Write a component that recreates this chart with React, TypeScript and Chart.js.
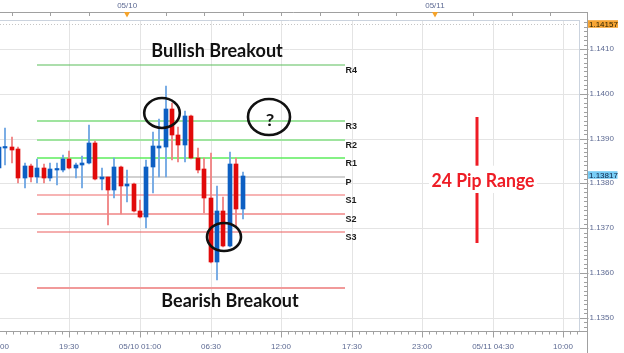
import React, { useEffect, useRef } from 'react';
import { Chart, registerables } from 'chart.js';

Chart.register(...registerables);

// ---------------- data ----------------
// candle open times, hours relative to 05/10 00:00 (30-minute candles)
const candleHours = [-10, -9.5, -9, -8.5, -8, -7.5, -7, -6.5, -6, -5.5, -5, -4.5, -4, -3.5, -3, -2.5, -2, -1.5, -1, -0.5, 0, 0.5, 1, 1.5, 2, 2.5, 3, 3.5, 4, 4.5, 5, 5.5, 6, 6.5, 7, 7.5, 8, 8.5, 9];
const opens = [1.13834, 1.13878, 1.13882, 1.13877, 1.13811, 1.13839, 1.13815, 1.13835, 1.13813, 1.1383, 1.1383, 1.13854, 1.13834, 1.13841, 1.13845, 1.13891, 1.1381, 1.13814, 1.13785, 1.13837, 1.13793, 1.13798, 1.13739, 1.13724, 1.13836, 1.1388, 1.13882, 1.13965, 1.13908, 1.13886, 1.1395, 1.13856, 1.13831, 1.13768, 1.13625, 1.13739, 1.1366, 1.13843, 1.13743];
const highs = [1.1389, 1.13923, 1.13904, 1.13881, 1.13845, 1.13843, 1.13854, 1.13843, 1.13845, 1.13845, 1.13863, 1.13872, 1.13846, 1.1386, 1.1393, 1.13894, 1.13834, 1.13815, 1.13856, 1.13838, 1.1383, 1.138, 1.13763, 1.13852, 1.13915, 1.13943, 1.14017, 1.13979, 1.13926, 1.13962, 1.13953, 1.13878, 1.13856, 1.13867, 1.13793, 1.1377, 1.13871, 1.13856, 1.13826];
const lows = [1.13825, 1.13841, 1.13845, 1.13801, 1.13789, 1.13804, 1.138, 1.138, 1.13805, 1.13796, 1.13826, 1.13832, 1.13811, 1.13789, 1.13843, 1.13807, 1.13785, 1.13707, 1.13768, 1.13731, 1.13758, 1.13736, 1.13722, 1.137, 1.13778, 1.13815, 1.13815, 1.13852, 1.13848, 1.13848, 1.13855, 1.13822, 1.13733, 1.13623, 1.13584, 1.13658, 1.13658, 1.13705, 1.1372];
const closes = [1.13881, 1.13882, 1.13874, 1.13811, 1.13839, 1.13815, 1.13835, 1.13813, 1.13831, 1.13832, 1.13854, 1.13835, 1.13841, 1.13846, 1.13891, 1.13809, 1.13814, 1.13785, 1.13837, 1.13793, 1.13798, 1.13738, 1.13724, 1.13836, 1.13883, 1.13883, 1.13965, 1.13908, 1.13886, 1.1395, 1.13856, 1.1383, 1.13767, 1.13625, 1.13739, 1.1366, 1.13843, 1.13743, 1.13817];

const pivotNames = ['R4', 'R3', 'R2', 'R1', 'P', 'S1', 'S2', 'S3'];
const pivotLevels = [1.14064, 1.13939, 1.13897, 1.13856, 1.13815, 1.13773, 1.13732, 1.13691];
const bearishLevel = 1.13567;
const pivotStartHour = -7;
const pivotEndHour = 17;

const bottomTickHours = [-10, -4.5, 1, 6.5, 12, 17.5, 23, 28.5, 34];
const bottomTickLabels = ['14:00', '19:30', '05/10 01:00', '06:30', '12:00', '17:30', '23:00', '05/11 04:30', '10:00'];
const topTickHours = [0, 24];
const topTickLabels = ['05/10', '05/11'];
const priceTicks = [1.135, 1.136, 1.137, 1.138, 1.139, 1.14, 1.141];

const sessionHigh = 1.14157;
const lastPrice = 1.13817;
const rangeHour = 27.26;
const rangeTop = 1.13948;
const rangeBottom = 1.13666;

// ---------------- view settings ----------------
const X_MIN = -9.92;
const X_MAX = 35.24;
const Y_MIN = 1.1347;
const Y_MAX = 1.14165;

const UP_BODY = '#0d5fc3';
const DOWN_BODY = '#e10a0a';
const UP_WICK = '#72a8e4';
const DOWN_WICK = '#f08585';
const TICK_COLOR = '#5d6a93';
const GRID_COLOR = '#e4e4e4';

const pivotStyles = [
  { color: '#5bbd5b', width: 1.2 },
  { color: '#9fe49f', width: 2 },
  { color: '#9fe49f', width: 2 },
  { color: '#5ded5d', width: 1.3 },
  { color: '#a3a3a3', width: 1.1 },
  { color: '#f06b6b', width: 1.1 },
  { color: '#f3a3a3', width: 2 },
  { color: '#ec5f5f', width: 1.1 },
];
const bearishStyle = { color: '#f19a9a', width: 2 };

function stretchText(ctx: CanvasRenderingContext2D, text: string, cx: number, baseline: number, width: number, capH: number, color: string) {
  const size = capH / 0.72;
  ctx.save();
  ctx.font = `bold ${size}px Lato`;
  const w = ctx.measureText(text).width;
  ctx.translate(cx, baseline);
  ctx.scale(width / w, 1);
  ctx.fillStyle = color;
  ctx.textAlign = 'center';
  ctx.textBaseline = 'alphabetic';
  ctx.fillText(text, 0, 0);
  ctx.restore();
}

const overlayPlugin = {
  id: 'overlay',
  beforeDatasetsDraw(chart: any) {
    const { ctx, chartArea: a } = chart;
    const ys = chart.scales.y;
    ctx.save();
    const yh = Math.round(ys.getPixelForValue(sessionHigh)) + 0.5;
    ctx.strokeStyle = '#c6c6c6';
    ctx.lineWidth = 1;
    ctx.setLineDash([1, 2]);
    ctx.beginPath();
    ctx.moveTo(a.left, yh);
    ctx.lineTo(a.right, yh);
    ctx.stroke();
    ctx.restore();
  },
  afterDatasetsDraw(chart: any) {
    const { ctx } = chart;
    const xs = chart.scales.x;
    const ys = chart.scales.y;
    const X = (h: number) => xs.getPixelForValue(h);
    const Y = (p: number) => ys.getPixelForValue(p);
    ctx.save();

    // pivot labels
    ctx.font = 'bold 9px "Liberation Sans"';
    ctx.fillStyle = '#1a1a1a';
    ctx.textAlign = 'left';
    ctx.textBaseline = 'middle';
    pivotNames.forEach((n, i) => {
      ctx.fillText(n, X(pivotEndHour) + 0.5, Y(pivotLevels[i]) + 5.3);
    });

    // range bar
    const rx = X(rangeHour);
    ctx.strokeStyle = '#ee1c25';
    ctx.lineWidth = 3;
    ctx.beginPath();
    ctx.moveTo(rx, Y(rangeTop));
    ctx.lineTo(rx, Y(rangeBottom));
    ctx.stroke();

    // "24 Pip Range" with white box
    const pcx = X(27.78);
    const pbase = Y(1.13791);
    ctx.fillStyle = '#ffffff';
    ctx.fillRect(pcx - 54, pbase - 21.3, 108, 27.3);
    stretchText(ctx, '24 Pip Range', pcx, pbase, 103, 13.2, '#ee1c25');

    // breakout titles
    stretchText(ctx, 'Bullish Breakout', X(7.04), Y(1.14082), 131.6, 13, '#111111');
    stretchText(ctx, 'Bearish Breakout', X(8.04), Y(1.13523), 137.3, 13, '#111111');

    // ellipses
    ctx.strokeStyle = '#111111';
    ctx.lineWidth = 2.6;
    const ells = [
      [2.71, 1.13958, 17.8, 15],
      [11.1, 1.13948, 21, 18],
      [7.53, 1.13679, 17, 14],
    ];
    ells.forEach(([h, p, erx, ery]) => {
      ctx.beginPath();
      ctx.ellipse(X(h), Y(p), erx, ery, 0, 0, Math.PI * 2);
      ctx.stroke();
    });
    stretchText(ctx, '?', X(11.12), Y(1.13928), 8.5, 12.5, '#111111');

    ctx.restore();
  },
  afterDraw(chart: any) {
    const { ctx, chartArea: a } = chart;
    const xs = chart.scales.x;
    const ys = chart.scales.y;
    const X = (h: number) => xs.getPixelForValue(h);
    const Y = (p: number) => ys.getPixelForValue(p);
    const line = (x1: number, y1: number, x2: number, y2: number) => {
      ctx.beginPath();
      ctx.moveTo(x1, y1);
      ctx.lineTo(x2, y2);
      ctx.stroke();
    };
    ctx.save();
    ctx.lineWidth = 1;

    // plot frame
    ctx.strokeStyle = '#cbd3de';
    line(a.left, a.top + 0.5, a.right, a.top + 0.5);
    line(a.right + 0.5, a.top, a.right + 0.5, a.bottom);

    ctx.strokeStyle = '#a0a0a0';
    const axX = a.right + 8.5;
    // top axis
    line(0, 12.5, axX, 12.5);
    for (let h = -9; h <= X_MAX; h += 3) {
      const x = Math.round(X(h)) + 0.5;
      line(x, 12.5, x, 16);
    }
    // right axis
    line(axX, 12, axX, 353);
    for (let i = Math.ceil(Y_MIN * 10000); i <= Math.floor(Y_MAX * 10000); i++) {
      const y = Math.round(Y(i / 10000)) + 0.5;
      if (i % 10 === 0) line(a.right + 1, y, axX + 1, y);
      else line(axX - 3.5, y, axX, y);
    }
    // bottom axis
    line(0, a.bottom + 0.5, axX, a.bottom + 0.5);
    for (let i = 0; i < 100; i++) {
      const h = -10 + 0.55 * i;
      if (h > X_MAX) break;
      const x = Math.round(X(h)) + 0.5;
      line(x, a.bottom + 0.5, x, a.bottom + (i % 10 === 0 ? 6.5 : 3.5));
    }

    // date markers on the top axis
    ctx.fillStyle = '#f5a32a';
    topTickHours.forEach((h) => {
      const x = X(h);
      ctx.beginPath();
      ctx.moveTo(x - 3, 12);
      ctx.lineTo(x + 3, 12);
      ctx.lineTo(x, 17.5);
      ctx.closePath();
      ctx.fill();
    });

    // price boxes
    ctx.font = '8px "Liberation Sans"';
    ctx.textAlign = 'left';
    ctx.textBaseline = 'middle';
    const hy = Y(sessionHigh);
    ctx.fillStyle = '#f7a534';
    ctx.fillRect(axX + 0.5, hy - 3.8, 30, 7.6);
    ctx.fillStyle = '#2b2200';
    ctx.fillText(sessionHigh.toFixed(5), axX + 1.5, hy + 0.3);
    const ly = Y(lastPrice) - 1;
    ctx.fillStyle = '#78cdf6';
    ctx.fillRect(axX + 0.5, ly - 3.8, 29.5, 7.6);
    ctx.fillStyle = '#0c2346';
    ctx.fillText(lastPrice.toFixed(5), axX + 1.5, ly + 0.3);

    ctx.restore();
  },
};

export default function App() {
  const ref = useRef<HTMLCanvasElement | null>(null);

  useEffect(() => {
    if (!ref.current) return;
    const bodyData = candleHours.map((h, i) => ({ x: h, y: [opens[i], closes[i]] }));
    const wickData = candleHours.map((h, i) => ({ x: h, y: [lows[i], highs[i]] }));
    const up = candleHours.map((_, i) => closes[i] >= opens[i]);

    const pivotSets: any[] = pivotLevels.map((lvl, i) => ({
      type: 'line',
      data: [
        { x: pivotStartHour, y: lvl },
        { x: pivotEndHour, y: lvl },
      ],
      borderColor: pivotStyles[i].color,
      borderWidth: pivotStyles[i].width,
      pointRadius: 0,
      fill: false,
      order: 3,
      xAxisID: 'x',
      yAxisID: 'y',
    }));
    pivotSets.push({
      type: 'line',
      data: [
        { x: pivotStartHour, y: bearishLevel },
        { x: pivotEndHour, y: bearishLevel },
      ],
      borderColor: bearishStyle.color,
      borderWidth: bearishStyle.width,
      pointRadius: 0,
      fill: false,
      order: 3,
      xAxisID: 'x',
      yAxisID: 'y',
    });

    const font = { family: 'Liberation Sans', size: 8 };

    const chart = new Chart(ref.current, {
      type: 'bar',
      data: {
        datasets: [
          {
            type: 'bar',
            data: bodyData as any,
            backgroundColor: up.map((u) => (u ? UP_BODY : DOWN_BODY)),
            borderWidth: 0,
            barThickness: 4,
            minBarLength: 1.5,
            grouped: false,
            order: 1,
            xAxisID: 'x',
            yAxisID: 'y',
          } as any,
          {
            type: 'bar',
            data: wickData as any,
            backgroundColor: up.map((u) => (u ? UP_WICK : DOWN_WICK)),
            borderWidth: 0,
            barThickness: 1.2,
            grouped: false,
            order: 2,
            xAxisID: 'x',
            yAxisID: 'y',
          } as any,
          ...pivotSets,
        ],
      },
      options: {
        responsive: false,
        animation: false,
        devicePixelRatio: 1,
        events: [],
        layout: { padding: 0 },
        plugins: { legend: { display: false }, tooltip: { enabled: false } },
        scales: {
          x: {
            type: 'linear',
            position: 'bottom',
            min: X_MIN,
            max: X_MAX,
            offset: false,
            alignToPixels: true,
            afterBuildTicks: (s: any) => {
              s.ticks = bottomTickHours.map((v) => ({ value: v }));
            },
            afterFit: (s: any) => {
              s.height = 22;
              s.paddingLeft = 0;
              s.paddingRight = 0;
            },
            grid: { color: GRID_COLOR, lineWidth: 1, drawTicks: false, offset: false },
            border: { display: false },
            ticks: {
              autoSkip: false,
              maxRotation: 0,
              padding: 10.7,
              color: TICK_COLOR,
              font,
              callback: (v: any) => {
                const i = bottomTickHours.indexOf(Number(v));
                return i >= 0 ? bottomTickLabels[i] : '';
              },
            },
          },
          x2: {
            type: 'linear',
            position: 'top',
            min: X_MIN,
            max: X_MAX,
            offset: false,
            afterBuildTicks: (s: any) => {
              s.ticks = topTickHours.map((v) => ({ value: v }));
            },
            afterFit: (s: any) => {
              s.height = 20;
              s.paddingLeft = 0;
              s.paddingRight = 0;
            },
            grid: { display: false, drawTicks: false },
            border: { display: false },
            ticks: {
              autoSkip: false,
              maxRotation: 0,
              padding: 9.2,
              color: TICK_COLOR,
              font,
              callback: (v: any) => {
                const i = topTickHours.indexOf(Number(v));
                return i >= 0 ? topTickLabels[i] : '';
              },
            },
          },
          y: {
            type: 'linear',
            position: 'right',
            min: Y_MIN,
            max: Y_MAX,
            alignToPixels: true,
            afterBuildTicks: (s: any) => {
              s.ticks = priceTicks.map((v) => ({ value: v }));
            },
            afterFit: (s: any) => {
              s.width = 45;
              s.paddingTop = 0;
              s.paddingBottom = 0;
            },
            grid: { color: GRID_COLOR, lineWidth: 1, drawTicks: false },
            border: { display: false },
            ticks: {
              padding: 10.5,
              color: TICK_COLOR,
              font,
              callback: (v: any) => Number(v).toFixed(4),
            },
          },
        },
      } as any,
      plugins: [overlayPlugin as any],
    });
    return () => chart.destroy();
  }, []);

  return (
    <div style={{ position: 'absolute', left: 0, top: 0, width: 624, height: 353, background: '#ffffff' }}>
      <canvas ref={ref} width={624} height={353} style={{ display: 'block', width: 624, height: 353 }} />
    </div>
  );
}
